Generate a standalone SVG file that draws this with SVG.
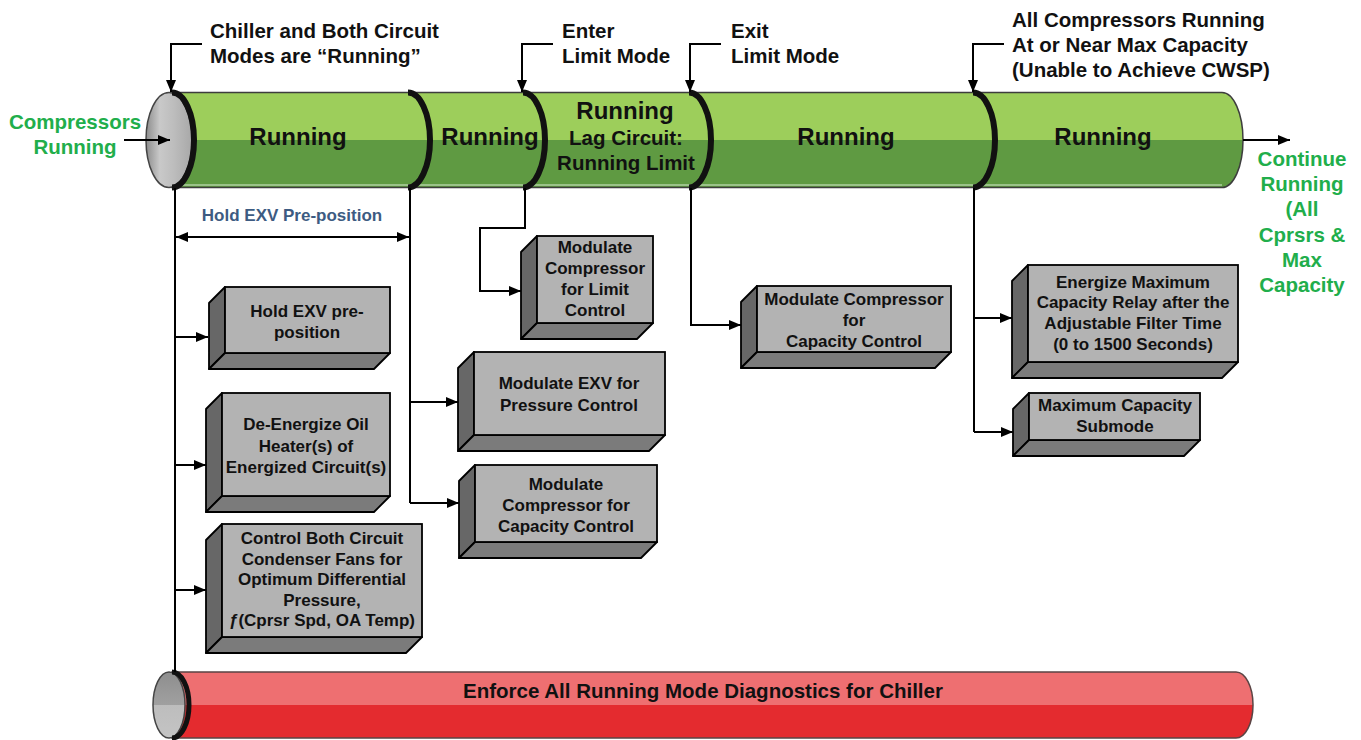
<svg xmlns="http://www.w3.org/2000/svg" width="1361" height="740" viewBox="0 0 1361 740">
<defs>
<linearGradient id="gGreen" x1="0" y1="0" x2="0" y2="1">
<stop offset="0" stop-color="#9dce5b"/><stop offset="0.5" stop-color="#9dce5b"/><stop offset="0.5" stop-color="#5f9a42"/><stop offset="1" stop-color="#5f9a42"/>
</linearGradient>
<linearGradient id="gRed" x1="0" y1="0" x2="0" y2="1">
<stop offset="0" stop-color="#ee6f71"/><stop offset="0.5" stop-color="#ee6f71"/><stop offset="0.5" stop-color="#e42b2f"/><stop offset="1" stop-color="#e42b2f"/>
</linearGradient>
<linearGradient id="gCap" x1="0" y1="0" x2="1" y2="0">
<stop offset="0" stop-color="#8c8c8c"/><stop offset="0.3" stop-color="#c9c9c9"/><stop offset="0.6" stop-color="#bdbdbd"/><stop offset="1" stop-color="#a8a8a8"/>
</linearGradient>
<linearGradient id="gCapR" x1="0" y1="0" x2="0" y2="1">
<stop offset="0" stop-color="#8e8e8e"/><stop offset="0.5" stop-color="#a0a0a0"/><stop offset="0.5" stop-color="#bdbdbd"/><stop offset="1" stop-color="#c4c4c4"/>
</linearGradient>
<marker id="ah" viewBox="0 0 12 10" refX="12" refY="5" markerWidth="12" markerHeight="10" markerUnits="userSpaceOnUse" orient="auto-start-reverse">
<path d="M0,0 L12,5 L0,10 z" fill="#000"/>
</marker>
<style>
.t{font-family:"Liberation Sans",Arial,sans-serif;font-weight:bold;fill:#111}
.bx{font-size:17px;text-anchor:middle}
.lbl{font-size:20.5px}
.grn{font-family:"Liberation Sans",Arial,sans-serif;font-weight:bold;font-size:20.5px;fill:#21ae4b;text-anchor:middle}
.run{font-size:24px;text-anchor:middle}
.front{fill:#b3b3b3;stroke:#000;stroke-width:1.8}
.side{fill:#676767;stroke:#000;stroke-width:1.8;stroke-linejoin:round}
.bot{fill:#7b7b7b;stroke:#000;stroke-width:1.8;stroke-linejoin:round}
.ln{fill:none;stroke:#000;stroke-width:2}
.arr{fill:none;stroke:#000;stroke-width:2;marker-end:url(#ah)}
.rim{fill:none;stroke:#111;stroke-width:6}
</style>
</defs>
<rect width="1361" height="740" fill="#fff"/>

<g id="green-cylinder">
<path d="M172,92.5 H1222 A21,47.5 0 0 1 1222,187.5 H172 Z" fill="url(#gGreen)" stroke="#3d3d3d" stroke-width="1.5"/>
<line x1="172" y1="185" x2="1222" y2="185" stroke="#d8ecd0" stroke-width="1"/>
<ellipse cx="169" cy="140" rx="23" ry="47.5" fill="url(#gCap)" stroke="#444" stroke-width="1.5"/>
<path class="rim" d="M172,92.5 A22,47.5 0 0 1 172,187.5"/>
<path class="rim" d="M408,92.5 A22,47.5 0 0 1 408,187.5"/>
<path class="rim" d="M523,92.5 A22,47.5 0 0 1 523,187.5"/>
<path class="rim" d="M689,92.5 A22,47.5 0 0 1 689,187.5"/>
<path class="rim" d="M973,92.5 A22,47.5 0 0 1 973,187.5"/>
<text class="t run" x="298" y="145">Running</text>
<text class="t run" x="490" y="145">Running</text>
<text class="t run" x="625" y="119">Running</text>
<text class="t" x="626" y="145" font-size="20.5" text-anchor="middle">Lag Circuit:</text>
<text class="t" x="626" y="170" font-size="20.5" text-anchor="middle">Running Limit</text>
<text class="t run" x="846" y="145">Running</text>
<text class="t run" x="1103" y="145">Running</text>
</g>

<g id="red-cylinder">
<path d="M172,672 H1236 A17,33 0 0 1 1236,738 H172 Z" fill="url(#gRed)" stroke="#5a4444" stroke-width="1.5"/>
<ellipse cx="169" cy="705" rx="16" ry="33" fill="url(#gCapR)" stroke="#444" stroke-width="1.5"/>
<path d="M172,672 A17,33 0 0 1 172,738" fill="none" stroke="#111" stroke-width="5"/>
<text class="t" x="703" y="698" font-size="20.5" text-anchor="middle">Enforce All Running Mode Diagnostics for Chiller</text>
</g>

<g id="labels">
<text class="t lbl" x="210" y="38">Chiller and Both Circuit</text>
<text class="t lbl" x="210" y="63">Modes are “Running”</text>
<text class="t lbl" x="562" y="38">Enter</text>
<text class="t lbl" x="562" y="63">Limit Mode</text>
<text class="t lbl" x="731" y="38">Exit</text>
<text class="t lbl" x="731" y="63">Limit Mode</text>
<text class="t lbl" x="1012" y="27">All Compressors Running</text>
<text class="t lbl" x="1012" y="52">At or Near Max Capacity</text>
<text class="t lbl" x="1012" y="77">(Unable to Achieve CWSP)</text>
<text class="grn" x="75" y="129">Compressors</text>
<text class="grn" x="75" y="154">Running</text>
<text class="grn" x="1302" y="166">Continue</text>
<text class="grn" x="1302" y="191">Running</text>
<text class="grn" x="1302" y="216">(All</text>
<text class="grn" x="1302" y="242">Cprsrs &amp;</text>
<text class="grn" x="1302" y="267">Max</text>
<text class="grn" x="1302" y="292">Capacity</text>
<text font-family="Liberation Sans, Arial, sans-serif" font-weight="bold" font-size="17" fill="#3d5b82" x="292" y="221" text-anchor="middle">Hold EXV Pre-position</text>
</g>

<g id="connectors">
<path class="arr" d="M202,44 H171 V92"/>
<path class="arr" d="M553,44 H522 V92"/>
<path class="arr" d="M721,44 H690 V92"/>
<path class="arr" d="M1004,44 H973 V92"/>
<path class="arr" d="M124,140 H170"/>
<path class="arr" d="M1243,140 H1290"/>
<path class="ln" d="M175,188 V672"/>
<path class="ln" d="M410,188 V503"/>
<path class="ln" d="M974,188 V432"/>
<path class="ln" d="M176,237 H409" marker-start="url(#ah)" marker-end="url(#ah)"/>
<path class="arr" d="M175,337 H208"/>
<path class="arr" d="M175,465 H206"/>
<path class="arr" d="M175,590 H206"/>
<path class="arr" d="M525,188 V228 H480 V291 H521"/>
<path class="arr" d="M410,402 H458"/>
<path class="arr" d="M410,503 H459"/>
<path class="arr" d="M691,188 V325 H741"/>
<path class="arr" d="M974,318 H1012"/>
<path class="arr" d="M974,432 H1013"/>
</g>

<g id="box-hold-exv">
<path class="side" d="M225,287 L209,303 V369 L225,353 Z"/>
<path class="bot" d="M225,353 L209,369 H374 L390,353 Z"/>
<rect class="front" x="225" y="287" width="165" height="66"/>
<text class="t bx" x="307" y="317">Hold EXV pre-</text>
<text class="t bx" x="307" y="338">position</text>
</g>

<g id="box-deenergize">
<path class="side" d="M222,393 L206,409 V512 L222,496 Z"/>
<path class="bot" d="M222,496 L206,512 H374 L390,496 Z"/>
<rect class="front" x="222" y="393" width="168" height="103"/>
<text class="t bx" x="306" y="430">De-Energize Oil</text>
<text class="t bx" x="306" y="452">Heater(s) of</text>
<text class="t bx" x="306" y="473">Energized Circuit(s)</text>
</g>

<g id="box-condenser">
<path class="side" d="M222,524 L206,540 V653 L222,637 Z"/>
<path class="bot" d="M222,637 L206,653 H406 L422,637 Z"/>
<rect class="front" x="222" y="524" width="200" height="113"/>
<text class="t bx" x="322" y="544">Control Both Circuit</text>
<text class="t bx" x="322" y="565">Condenser Fans for</text>
<text class="t bx" x="322" y="585">Optimum Differential</text>
<text class="t bx" x="322" y="606">Pressure,</text>
<text class="t bx" x="322" y="626">ƒ(Cprsr Spd, OA Temp)</text>
</g>

<g id="box-limit">
<path class="side" d="M537,236 L521,252 V339 L537,323 Z"/>
<path class="bot" d="M537,323 L521,339 H637 L653,323 Z"/>
<rect class="front" x="537" y="236" width="116" height="87"/>
<text class="t bx" x="595" y="253">Modulate</text>
<text class="t bx" x="595" y="274">Compressor</text>
<text class="t bx" x="595" y="295">for Limit</text>
<text class="t bx" x="595" y="316">Control</text>
</g>

<g id="box-exv-pressure">
<path class="side" d="M474,352 L458,368 V451 L474,435 Z"/>
<path class="bot" d="M474,435 L458,451 H649 L665,435 Z"/>
<rect class="front" x="474" y="352" width="191" height="83"/>
<text class="t bx" x="569" y="389">Modulate EXV for</text>
<text class="t bx" x="569" y="411">Pressure Control</text>
</g>

<g id="box-capacity-mid">
<path class="side" d="M475,465 L459,481 V558 L475,542 Z"/>
<path class="bot" d="M475,542 L459,558 H641 L657,542 Z"/>
<rect class="front" x="475" y="465" width="182" height="77"/>
<text class="t bx" x="566" y="490">Modulate</text>
<text class="t bx" x="566" y="511">Compressor for</text>
<text class="t bx" x="566" y="532">Capacity Control</text>
</g>

<g id="box-capacity-right">
<path class="side" d="M757,286 L741,302 V368 L757,352 Z"/>
<path class="bot" d="M757,352 L741,368 H935 L951,352 Z"/>
<rect class="front" x="757" y="286" width="194" height="66"/>
<text class="t bx" x="854" y="305">Modulate Compressor</text>
<text class="t bx" x="854" y="326">for</text>
<text class="t bx" x="854" y="347">Capacity Control</text>
</g>

<g id="box-max-relay">
<path class="side" d="M1028,265 L1012,281 V378 L1028,362 Z"/>
<path class="bot" d="M1028,362 L1012,378 H1222 L1238,362 Z"/>
<rect class="front" x="1028" y="265" width="210" height="97"/>
<text class="t bx" x="1133" y="288">Energize Maximum</text>
<text class="t bx" x="1133" y="308">Capacity Relay after the</text>
<text class="t bx" x="1133" y="329">Adjustable Filter Time</text>
<text class="t bx" x="1133" y="350">(0 to 1500 Seconds)</text>
</g>

<g id="box-max-submode">
<path class="side" d="M1029,393 L1013,409 V456 L1029,440 Z"/>
<path class="bot" d="M1029,440 L1013,456 H1184 L1200,440 Z"/>
<rect class="front" x="1029" y="393" width="171" height="47"/>
<text class="t bx" x="1115" y="411">Maximum Capacity</text>
<text class="t bx" x="1115" y="432">Submode</text>
</g>
</svg>
